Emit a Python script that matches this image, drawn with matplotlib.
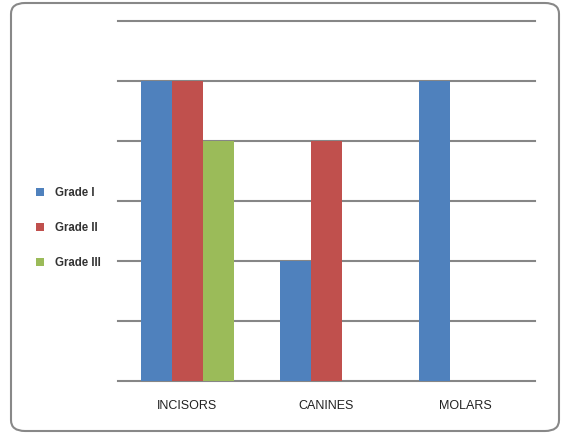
import matplotlib.pyplot as plt
from matplotlib.patches import FancyBboxPatch, Patch
import numpy as np

categories = ['INCISORS', 'CANINES', 'MOLARS']
series_names = ['Grade I', 'Grade II', 'Grade III']
grade1 = [5, 2, 5]
grade2 = [5, 4, 0]
grade3 = [4, 0, 0]
colors = ['#4F81BD', '#C0504D', '#9BBB59']

fig = plt.figure(figsize=(5.62, 4.34), dpi=100)
plt.rcParams['font.family'] = ['Liberation Sans', 'DejaVu Sans']

# rounded outer frame
frame = FancyBboxPatch((11 / 562, 3 / 434), 548 / 562, 428 / 434,
                       boxstyle='round,pad=0,rounding_size=0.025',
                       transform=fig.transFigure, fill=False,
                       edgecolor='#888888', linewidth=1.5)
fig.patches.append(frame)

ax = fig.add_axes([118 / 562, 53 / 434, 417 / 562, 360 / 434])
x = np.arange(len(categories))
w = 1 / 4.5
for i, (vals, c) in enumerate(zip([grade1, grade2, grade3], colors)):
    ax.bar(x + (i - 1) * w, vals, w, color=c, zorder=3)

ax.set_xlim(-0.5, 2.5)
ax.set_ylim(0, 6)
ax.set_yticks(range(0, 7))
ax.set_yticklabels([])
ax.yaxis.grid(True, color='#868686', linewidth=1.5)
for gl in ax.get_ygridlines():
    gl.set_clip_on(False)
ax.tick_params(axis='y', length=0)
ax.tick_params(axis='x', length=0, pad=14)
ax.set_xticks(x)
ax.set_xticklabels(categories, fontsize=9, color='#222222')
for s in ax.spines.values():
    s.set_visible(False)

handles = [Patch(facecolor=c, edgecolor='none') for c in colors]
fig.legend(handles, series_names, loc='center left',
           bbox_to_anchor=(0.045, 0.475), frameon=False,
           prop={'size': 8.3, 'weight': 'semibold'}, labelcolor='#333333',
           handlelength=0.75, handleheight=0.75, handletextpad=0.9,
           labelspacing=2.0)

fig.savefig('out.png', dpi=100)
